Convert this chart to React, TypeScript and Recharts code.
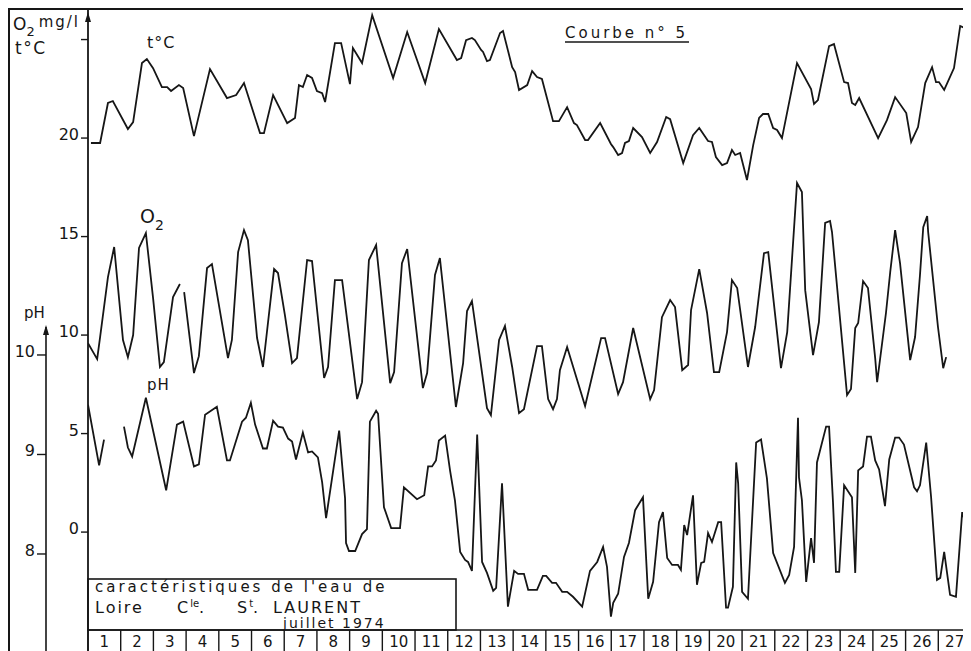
import { LineChart, Line, XAxis, YAxis } from "recharts";

// Courbe n° 5 - Loire, Cle St LAURENT, juillet 1974
// x = days since 1st July 0h (cell "1" spans 0..1)

const dayLabels = [
  "1", "2", "3", "4", "5", "6", "7", "8", "9", "10", "11", "12", "13", "14",
  "15", "16", "17", "18", "19", "20", "21", "22", "23", "24", "25", "26", "27",
];

// temperature (°C)
const tempT = [
  0.09, 0.37, 0.61, 0.76, 1.22, 1.38, 1.65, 1.8, 1.99, 2.26, 2.42, 2.54, 2.78, 2.91,
  3.24, 3.73, 4.25, 4.53, 4.77, 5.26, 5.38, 5.66, 6.09, 6.33, 6.45, 6.57, 6.7, 6.85,
  7.0, 7.16, 7.25, 7.55, 7.74, 8.01, 8.1, 8.38, 8.69, 9.33, 9.76, 10.31, 10.73, 11.28,
  11.41, 11.56, 11.74, 11.83, 12.02, 12.08, 12.2, 12.29, 12.6, 12.69, 12.97, 13.06,
  13.18, 13.43, 13.58, 13.73, 13.88, 14.22, 14.4, 14.65, 14.86, 14.95, 15.2, 15.29,
  15.66, 15.99, 16.06, 16.21, 16.33, 16.42, 16.54, 16.67, 16.94, 17.19, 17.4, 17.68,
  17.8, 18.2, 18.5, 18.69, 18.96, 19.08, 19.2, 19.39, 19.54, 19.69, 19.79, 19.94,
  20.15, 20.34, 20.52, 20.64, 20.8, 20.95, 21.07, 21.22, 21.68, 22.11, 22.2, 22.32,
  22.66, 22.81, 23.12, 23.24, 23.36, 23.46, 23.58, 24.16, 24.43, 24.68, 25.02, 25.17,
  25.38, 25.6, 25.81, 25.93, 26.02, 26.18, 26.48, 26.67, 26.82, 26.97,
];
const tempC = [
  19.75, 19.75, 21.78, 21.88, 20.46, 20.81, 23.81, 24.01, 23.55, 22.59, 22.59, 22.39, 22.69, 22.54,
  20.1, 23.5, 22.03, 22.18, 22.79, 20.25, 20.25, 22.18, 20.76, 21.02, 22.69, 22.59, 23.2, 23.05,
  22.39, 22.28, 21.83, 24.82, 24.82, 22.74, 24.57, 23.81, 26.24, 23.05, 25.38, 22.79, 25.53, 23.96,
  24.06, 24.97, 25.08, 24.97, 24.47, 24.37, 23.91, 23.96, 25.33, 25.43, 23.6, 23.35,
  22.44, 22.69, 23.4, 23.1, 23.0, 20.86, 20.86, 21.57, 20.76, 20.66, 19.9, 19.9,
  20.76, 19.7, 19.54, 19.14, 19.24, 19.75, 19.85, 20.51, 20.05, 19.24, 19.8, 21.07,
  20.96, 18.73, 20.15, 20.51, 19.85, 19.8, 19.04, 18.63, 18.73, 19.39, 19.14, 19.24,
  17.87, 19.64, 21.02, 21.22, 21.22, 20.51, 20.41, 20.0, 23.81, 22.49, 21.73, 21.93,
  24.67, 24.77, 22.84, 22.79, 21.78, 21.68, 22.03, 20.0, 20.91, 22.08, 21.27, 19.8,
  20.56, 22.79, 23.6, 22.84, 22.84, 22.44, 23.55, 25.69, 25.58, 25.38,
];

// dissolved oxygen (mg/l)
const o2T = [
  0.0, 0.28, 0.37, 0.61, 0.8, 1.07, 1.22, 1.38, 1.56, 1.77, 1.99, 2.2, 2.32, 2.6, 2.81,
  2.87, 2.94, 3.24, 3.39, 3.64, 3.79, 4.28, 4.4, 4.59, 4.77, 4.89, 5.17, 5.35, 5.69,
  5.81, 6.02, 6.24, 6.39, 6.7, 6.85, 7.22, 7.34, 7.55, 7.77, 8.23, 8.38, 8.59, 8.81,
  9.24, 9.36, 9.6, 9.76, 10.24, 10.37, 10.61, 10.76, 11.25, 11.47, 11.59, 11.74, 12.2,
  12.32, 12.57, 12.75, 12.97, 13.18, 13.33, 13.73, 13.88, 14.07, 14.22, 14.34, 14.43,
  14.65, 15.2, 15.69, 15.81, 16.21, 16.36, 16.67, 17.19, 17.31, 17.55, 17.8, 17.95,
  18.17, 18.35, 18.44, 18.69, 18.93, 19.14, 19.3, 19.54, 19.69, 19.85, 20.18, 20.4,
  20.67, 20.8, 21.19, 21.38, 21.68, 21.83, 21.93, 22.17, 22.35, 22.54, 22.69, 22.75,
  23.21, 23.33, 23.46, 23.55, 23.7, 23.85, 24.07, 24.13, 24.4, 24.53, 24.68, 24.83,
  25.14, 25.29, 25.44, 25.54, 25.66, 25.69, 25.99, 26.15, 26.24,
];
const o2V = [
  9.59, 8.78, 9.9, 12.94, 14.47, 9.75, 8.88, 10.0, 14.42, 15.18, 11.88, 8.38, 8.63, 11.93, 12.59,
  null, 12.18, 8.07, 8.93, 13.4, 13.6, 8.83, 9.75, 14.21, 15.33, 14.82, 9.85, 8.38, 13.35,
  13.15, 11.02, 8.58, 8.83, 13.81, 13.76, 7.82, 8.38, 12.79, 12.79, 6.75, 7.61, 13.81, 14.57,
  7.56, 8.12, 13.65, 14.37, 7.31, 8.07, 13.05, 13.91, 6.35, 8.58, 11.22, 11.73, 6.29,
  5.94, 9.75, 10.46, 8.38, 6.04, 6.24, 9.44, 9.44, 6.75, 6.24, 6.75, 8.22,
  9.39, 6.4, 9.85, 9.85, 7.01, 7.61, 10.36, 6.75, 7.21, 10.91, 11.78, 11.42,
  8.22, 8.48, 11.27, 13.35, 11.12, 8.12, 8.12, 10.15, 12.79, 12.39, 8.38, 10.41,
  14.16, 14.21, 8.32, 10.15, 17.72, 17.26, 12.28, 8.98, 10.66, 15.69, 15.79, 15.23,
  6.95, 7.26, 10.36, 10.61, 12.74, 12.39, 8.83, 7.61, 11.12, 13.2, 15.33, 13.65,
  8.73, 9.9, 13.05, 15.48, 16.04, 15.23, 10.41, 8.32, 8.88,
];

// pH
const phT = [
  0.0, 0.34, 0.49, 0.8, 1.1, 1.22, 1.35, 1.77, 2.39, 2.72, 2.91, 3.24, 3.39, 3.58, 3.94,
  4.25, 4.34, 4.71, 4.83, 4.98, 5.11, 5.35, 5.47, 5.66, 5.81, 5.96, 6.12, 6.24, 6.36,
  6.57, 6.73, 6.85, 7.03, 7.16, 7.28, 7.68, 7.86, 7.89, 7.98, 8.17, 8.38, 8.53, 8.62,
  8.81, 8.87, 9.05, 9.27, 9.54, 9.66, 10.06, 10.28, 10.4, 10.52, 10.64, 10.73, 10.92,
  11.07, 11.22, 11.38, 11.53, 11.62, 11.74, 11.9, 12.05, 12.2, 12.39, 12.48, 12.66,
  12.84, 13.03, 13.15, 13.33, 13.46, 13.73, 13.91, 14.01, 14.19, 14.31, 14.5, 14.65,
  14.83, 15.11, 15.35, 15.57, 15.75, 15.87, 15.99, 16.06, 16.21, 16.39, 16.54, 16.73,
  16.97, 17.13, 17.28, 17.46, 17.58, 17.71, 17.86, 18.04, 18.13, 18.23, 18.32, 18.5,
  18.62, 18.75, 18.84, 18.96, 19.08, 19.27, 19.36, 19.51, 19.57, 19.72, 19.82, 19.88,
  20.0, 20.18, 20.43, 20.58, 20.76, 20.95, 21.31, 21.44, 21.59, 21.71, 21.74, 21.83,
  21.96, 22.11, 22.2, 22.29, 22.57, 22.66, 22.78, 22.87, 22.97, 23.12, 23.36, 23.46,
  23.55, 23.7, 23.82, 23.94, 24.07, 24.19, 24.37, 24.5, 24.68, 24.8, 24.95, 25.26,
  25.35, 25.44, 25.63, 25.78, 25.96, 26.06, 26.18, 26.36, 26.54, 26.73, 26.97,
];
const phV = [
  9.5, 8.89, 9.15, null, 9.28, 9.07, 8.98, 9.57, 8.64, 9.3, 9.33, 8.88, 8.9, 9.4, 9.48,
  8.94, 8.94, 9.33, 9.37, 9.52, 9.3, 9.06, 9.06, 9.34, 9.28, 9.27, 9.16, 9.13, 8.95,
  9.22, 9.02, 9.03, 8.97, 8.72, 8.36, 9.24, 8.56, 8.11, 8.03, 8.03, 8.2, 8.25, 9.33,
  9.44, 9.41, 8.47, 8.26, 8.26, 8.67, 8.55, 8.59, 8.88, 8.88, 8.94, 9.14, 9.19,
  8.84, 8.54, 8.02, 7.94, 7.92, 7.83, 9.2, 7.92, 7.81, 7.63, 7.66, 8.71,
  7.47, 7.83, 7.8, 7.8, 7.64, 7.64, 7.78, 7.78, 7.71, 7.71, 7.62, 7.62,
  7.57, 7.47, 7.83, 7.92, 8.07, 7.87, 7.37, 7.51, 7.6, 7.97, 8.11, 8.44,
  8.57, 7.55, 7.72, 8.32, 8.42, 7.96, 7.89, 7.89, 7.84, 8.29, 8.19, 8.59,
  7.69, 7.91, 7.92, 8.21, 8.12, 8.32, 8.32, 7.46, 7.46, 7.67, 8.92, 8.71,
  7.62, 7.55, 9.12, 9.15, 8.76, 8.01, 7.71, 7.79, 8.07, 9.37, 8.77, 8.54,
  7.72, 8.16, 7.91, 8.92, 9.28, 9.28, 8.52, 7.82, 7.82, 8.69, 8.57, 7.81,
  8.84, 8.88, 9.18, 9.18, 8.94, 8.85, 8.48, 8.95, 9.17, 9.17, 9.1, 8.67,
  8.63, 8.69, 9.12, 8.57, 7.74, 7.76, 8.02, 7.59, 7.57, 8.42, 8.17,
];

const o2Ticks = [0, 5, 10, 15, 20, 25];
const phTicks = [8, 9, 10];
const dayTicks = dayLabels.map((_, i) => i + 0.5);

const tempData = tempT.map((t, i) => ({ t, v: tempC[i] }));
const o2Data = o2T.map((t, i) => ({ t, v: o2V[i] }));
const phData = phT.map((t, i) => ({ t, v: phV[i] }));

const INK = "#161616";
const FONT = "DejaVu Sans";
const CELL = 883 / 27; // width of one day cell

const O2Tick = ({ x, y, payload }: any) => (
  <g>
    <line x1={x - 7} y1={y} x2={x} y2={y} stroke={INK} strokeWidth={1.4} />
    {payload.value <= 20 && (
      <text x={x - 9} y={y + 2} textAnchor="end" fontFamily={FONT} fontSize={16} fill={INK}>
        {payload.value}
      </text>
    )}
  </g>
);

const PhTick = ({ x, y, payload }: any) => (
  <g>
    <line x1={x - 9} y1={y} x2={x} y2={y} stroke={INK} strokeWidth={1.4} />
    <text x={x - 11} y={y + 2} textAnchor="end" fontFamily={FONT} fontSize={16} fill={INK}>
      {payload.value}
    </text>
    {payload.value === 10 && (
      <g>
        <line x1={x} y1={y - 28} x2={x} y2={y + 300} stroke={INK} strokeWidth={1.6} />
        <path d={`M${x - 3},${y - 20} L${x},${y - 30} L${x + 3},${y - 20} Z`} fill={INK} />
        <text x={x - 22} y={y - 37} fontFamily={FONT} fontSize={15} fill={INK}>pH</text>
      </g>
    )}
  </g>
);

const DayTick = ({ x, y, index }: any) => (
  <g>
    {index === 0 && (
      <line x1={x - CELL / 2} y1={y} x2={x - CELL / 2} y2={y + 22} stroke={INK} strokeWidth={1.6} />
    )}
    <line x1={x + CELL / 2} y1={y} x2={x + CELL / 2} y2={y + 22} stroke={INK} strokeWidth={1.4} />
    <text x={x} y={y + 17} textAnchor="middle" fontFamily={FONT} fontSize={15} fill={INK}>
      {dayLabels[index]}
    </text>
  </g>
);

export default function App() {
  return (
    <LineChart
      width={963}
      height={643}
      margin={{ top: 2, right: 0, bottom: 0, left: 0 }}
      style={{ background: "#fff" }}
    >
      <XAxis
        dataKey="t"
        type="number"
        domain={[0, 27]}
        ticks={dayTicks}
        interval={0}
        height={21}
        tickSize={0}
        tickMargin={0}
        tickLine={false}
        tick={<DayTick />}
        axisLine={{ stroke: INK, strokeWidth: 1.6 }}
        allowDataOverflow
      />
      <YAxis
        yAxisId="o2"
        type="number"
        domain={[-4.97, 26.5]}
        ticks={o2Ticks}
        width={42}
        tickSize={0}
        tickMargin={0}
        tickLine={false}
        tick={<O2Tick />}
        axisLine={{ stroke: INK, strokeWidth: 1.8 }}
        allowDataOverflow
      />
      <YAxis
        yAxisId="ph"
        type="number"
        domain={[7.236, 13.467]}
        ticks={phTicks}
        width={38}
        tickSize={0}
        tickMargin={0}
        tickLine={false}
        tick={<PhTick />}
        axisLine={false}
        allowDataOverflow
      />

      <Line data={tempData} dataKey="v" yAxisId="o2" type="linear" stroke={INK} strokeWidth={1.8} dot={false} isAnimationActive={false} />
      <Line data={o2Data} dataKey="v" yAxisId="o2" type="linear" stroke={INK} strokeWidth={1.8} dot={false} isAnimationActive={false} />
      <Line data={phData} dataKey="v" yAxisId="ph" type="linear" stroke={INK} strokeWidth={1.8} dot={false} isAnimationActive={false} />

      {/* frame */}
      <line x1={0} y1={1} x2={963} y2={1} stroke={INK} strokeWidth={2} />
      <line x1={1} y1={0} x2={1} y2={643} stroke={INK} strokeWidth={2} />
      <line x1={80} y1={622} x2={80} y2={643} stroke={INK} strokeWidth={1.6} />
      <path d="M77,14 L80,4 L83,14 Z" fill={INK} />

      {/* axis title */}
      <text x={5} y={22} fontFamily={FONT} fontSize={17} fill={INK}>
        O<tspan fontSize={13} dy={6}>2</tspan>
        <tspan fontSize={15} dy={-9} dx={4} letterSpacing={2}>mg/l</tspan>
      </text>
      <text x={7} y={46} fontFamily={FONT} fontSize={17} letterSpacing={1.5} fill={INK}>t°C</text>

      {/* curve labels */}
      <text x={139} y={40} fontFamily={FONT} fontSize={16} letterSpacing={1} fill={INK}>t°C</text>
      <text x={132} y={215} fontFamily={FONT} fontSize={19} fill={INK}>
        O<tspan fontSize={14} dy={7}>2</tspan>
      </text>
      <text x={139} y={382} fontFamily={FONT} fontSize={15} letterSpacing={1} fill={INK}>pH</text>

      {/* title */}
      <text x={557} y={30} fontFamily={FONT} fontSize={15} letterSpacing={3} fill={INK}>Courbe n° 5</text>
      <line x1={557} y1={34} x2={681} y2={34} stroke={INK} strokeWidth={1.4} />

      {/* caption box */}
      <rect x={80} y={571} width={368} height={51} fill="#fff" stroke={INK} strokeWidth={1.6} />
      <text x={87} y={584} fontFamily={FONT} fontSize={15} letterSpacing={3} fill={INK}>
        caractéristiques de l'eau de
      </text>
      <text y={605} fontFamily={FONT} fontSize={16} letterSpacing={2} fill={INK}>
        <tspan x={87}>Loire</tspan>
        <tspan x={169}>C</tspan>
        <tspan fontSize={10} dy={-6} letterSpacing={0}>le</tspan>
        <tspan dy={6}>.</tspan>
        <tspan x={229}>S</tspan>
        <tspan fontSize={10} dy={-6} letterSpacing={0}>t</tspan>
        <tspan dy={6}>.</tspan>
        <tspan x={265}>LAURENT</tspan>
      </text>
      <text x={275} y={620} fontFamily={FONT} fontSize={14} letterSpacing={2} fill={INK}>juillet 1974</text>
    </LineChart>
  );
}
